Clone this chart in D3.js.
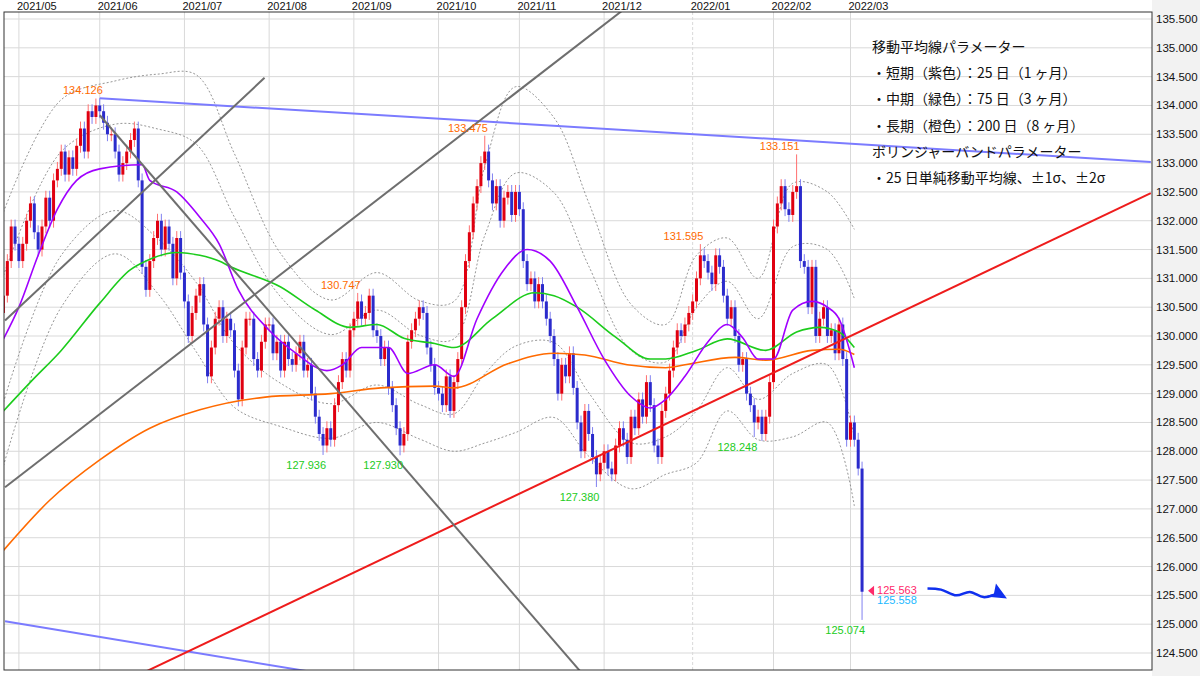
<!DOCTYPE html>
<html><head><meta charset="utf-8">
<script src="https://cdn.jsdelivr.net/npm/d3@7"></script>
<style>body{margin:0;background:#fff}svg{display:block}</style>
</head><body><svg id="c" width="1200" height="676"></svg>
<script>
// daily closes, 2021-04-27 .. 2022-03-04 (weekdays)
var closes = [
 130.7,131.3,131.9,131.6,
 131.3,131.6,132.0,132.3,131.8,131.5,131.9,132.4,132.0,132.7,132.9,133.2,132.8,133.1,132.9,133.3,133.6,133.2,133.9,133.8,134.0,
 133.9,133.7,133.5,133.5,133.2,132.8,133.0,133.2,133.4,133.6,132.7,131.2,130.8,131.3,131.7,132.0,131.5,131.9,131.6,131.0,131.7,131.1,
 130.6,130.0,130.4,130.7,130.9,130.2,129.3,129.8,130.3,130.5,130.0,130.3,130.1,129.4,128.9,129.8,130.3,130.3,129.6,129.4,129.9,130.2,
 130.2,129.7,129.9,129.4,129.9,129.6,129.5,129.7,129.9,129.4,129.5,129.0,128.6,128.3,128.1,128.4,128.2,128.8,129.2,129.6,129.4,130.1,
 130.3,130.6,130.3,130.4,130.7,130.1,130.0,129.6,129.8,129.1,128.8,128.4,128.1,128.3,129.9,130.1,130.3,130.5,130.4,129.8,129.5,129.1,
 129.0,128.8,129.3,128.7,129.2,129.6,130.5,131.3,131.8,132.3,132.6,133.0,133.2,132.7,132.3,132.6,132.0,132.4,132.5,132.1,132.5,
 132.2,131.3,130.9,131.0,130.6,130.9,130.6,130.3,130.0,129.6,129.0,129.5,129.3,129.7,129.1,128.5,128.0,128.7,128.3,127.9,127.6,127.8,
 128.0,127.7,127.6,128.1,128.4,128.2,127.9,128.6,128.4,128.9,128.6,129.2,128.8,128.1,127.9,128.7,129.0,129.4,129.8,130.1,130.0,130.2,130.4,
 130.6,131.0,131.4,131.3,131.1,130.9,131.4,131.2,130.7,130.3,130.5,130.0,129.5,129.6,129.0,128.8,128.5,128.6,128.3,128.6,129.2,
 131.9,132.3,132.6,132.2,132.1,132.5,132.6,131.3,131.2,130.5,131.2,130.0,130.3,130.5,130.0,130.1,129.7,130.2,129.6,128.2,
 128.5,128.2,127.7,125.563
];
var firstOpen = 130.4;
var highMarks = [[25,134.126],[92,130.747],[125,133.475],[181,131.595],[206,133.151]];
var lowMarks = [[83,127.936],[103,127.930],[154,127.380],[195,128.248],[223,125.074]];

// moving averages, [day index, value]
var ma25 = [[0,129.95],[4,130.5],[9,131.4],[14,132.2],[19,132.7],[25,132.9],[36,132.97],[38,132.7],[45,132.5],[51,132.06],[56,131.6],[61,130.8],[69,130.1],[76,129.7],[84,129.4],[88,129.5],[93,129.8],[100,129.8],[105,129.35],[112,129.5],[117,129.3],[123,130.3],[130,131.15],[136,131.5],[142,131.3],[149,130.5],[156,129.6],[163,128.95],[168,128.75],[172,128.9],[177,129.3],[183,129.9],[188,130.2],[192,129.97],[196,129.6],[200,129.6],[205,130.45],[210,130.6],[214,130.5],[217,130.3],[221,129.45]];
var ma75 = [[0,128.7],[7,129.2],[15,129.75],[25,130.57],[33,131.15],[37,131.3],[45,131.45],[51,131.4],[56,131.3],[59,131.2],[72,130.85],[81,130.45],[90,130.15],[97,130.2],[104,129.96],[112,129.87],[117,129.8],[127,130.3],[138,130.75],[143,130.7],[149,130.5],[159,129.98],[168,129.6],[172,129.6],[180,129.75],[188,129.95],[198,129.75],[206,130.07],[212,130.15],[217,130.07],[221,129.8]];
var ma200 = [[0,126.28],[12,127.15],[25,127.85],[38,128.4],[51,128.72],[68,128.94],[85,129.0],[98,129.1],[112,129.13],[117,129.1],[131,129.52],[143,129.7],[151,129.67],[162,129.5],[172,129.45],[177,129.5],[190,129.63],[198,129.58],[210,129.75],[217,129.77],[221,129.68]];
// bollinger sigma around ma25
var sigma = [[0,1.1],[15,0.9],[29,0.75],[40,0.95],[50,1.2],[60,1.1],[72,0.75],[85,0.6],[97,0.65],[108,0.6],[117,0.65],[125,1.2],[133,1.5],[143,1.3],[152,1.1],[163,0.8],[172,0.65],[180,0.9],[188,0.75],[196,0.7],[205,1.1],[214,1.0],[221,1.2]];

var trendLines = [
 {p:[[25,134.126],[298,133.02]], c:"#7b7bff"},
 {p:[[0.4,125.05],[82,124.15]], c:"#7b7bff"},
 {p:[[34.2,124.09],[298,132.48]], c:"#ee1c1c"},
 {p:[[0.4,130.27],[67.8,134.48]], c:"#6e6e6e"},
 {p:[[0.4,127.375],[161,135.66]], c:"#6e6e6e"},
 {p:[[25,133.83],[151,124.09]], c:"#6e6e6e"}
];
var yTicks = d3.range(124.5, 135.51, 0.5);
var legendLines = ["移動平均線パラメーター","・短期（紫色）：25 日（1 ヶ月）","・中期（緑色）：75 日（3 ヶ月）","・長期（橙色）：200 日（8 ヶ月）","ボリンジャーバンドパラメーター","・25 日単純移動平均線、±1σ、±2σ"];

// trading dates
var dates = [];
for (var d = new Date(2021,3,27); d <= new Date(2022,2,4); d.setDate(d.getDate()+1)) {
  if (d.getDay() !== 0 && d.getDay() !== 6) dates.push(new Date(d));
}
var bars = closes.map(function(c,i){
  var o = i ? closes[i-1] : firstOpen;
  return {i:i, o:o, c:c, h:Math.max(o,c)+0.12, l:Math.min(o,c)-0.12};
});
highMarks.forEach(function(m){bars[m[0]].h=m[1];});
lowMarks.forEach(function(m){bars[m[0]].l=m[1];});

var svg = d3.select("#c");
var L=4, R=1152, T=12, B=670;
var x = d3.scaleLinear().domain([0,1]).range([3.5,7.35]);
var y = d3.scaleLinear().domain([124.5,135.5]).range([653,19]);

svg.append("rect").attr("x",R).attr("y",0).attr("width",1200-R).attr("height",676).attr("fill","#f2f2f2");
svg.append("defs").append("clipPath").attr("id","clip").append("rect").attr("x",L).attr("y",T).attr("width",R-L).attr("height",B-T);
var g = svg.append("g").attr("clip-path","url(#clip)");

// grid
g.selectAll(".hg").data(yTicks).join("line").attr("x1",L).attr("x2",R).attr("y1",y).attr("y2",y).attr("stroke","#d9d9d9");
var monthIdx = [];
dates.forEach(function(d,i){ if(i>0 && d.getMonth()!==dates[i-1].getMonth()) monthIdx.push(i); });
g.selectAll(".vg").data(monthIdx).join("line").attr("x1",x).attr("x2",x).attr("y1",T).attr("y2",B)
 .attr("stroke","#d9d9d9").attr("stroke-dasharray",function(i){return dates[i].getMonth()===0?"3,2":null;});

// bollinger
var sig = d3.scaleLinear().domain(sigma.map(function(s){return s[0];})).range(sigma.map(function(s){return s[1];}));
var mid = d3.scaleLinear().domain(ma25.map(function(s){return s[0];})).range(ma25.map(function(s){return s[1];}));
var bandIdx = sigma.map(function(s){return s[0];});
var curve = d3.curveMonotoneX;
[-2,-1,1,2].forEach(function(k){
  g.append("path").datum(bandIdx).attr("fill","none").attr("stroke","#8a8a8a").attr("stroke-width",0.9).attr("stroke-dasharray","2,2")
   .attr("d", d3.line().curve(d3.curveCatmullRom).x(function(i){return x(i);}).y(function(i){return y(mid(i)+k*sig(i));}));
});

// candles
var up="#e00010", dn="#2b2bcc";
var cg = g.selectAll(".cd").data(bars).join("g");
cg.append("line").attr("x1",function(b){return x(b.i);}).attr("x2",function(b){return x(b.i);})
 .attr("y1",function(b){return y(b.h);}).attr("y2",function(b){return y(b.l);})
 .attr("stroke",function(b){return b.c>=b.o?"#ff7070":"#8080f0";}).attr("stroke-width",1);
cg.append("rect").attr("x",function(b){return x(b.i)-1.5;}).attr("width",3)
 .attr("y",function(b){return y(Math.max(b.o,b.c));})
 .attr("height",function(b){return Math.max(1,Math.abs(y(b.o)-y(b.c)));})
 .attr("fill",function(b){return b.c>=b.o?up:dn;});

// moving averages
[[ma200,"#ff6a00"],[ma75,"#1ccc1c"],[ma25,"#a000ff"]].forEach(function(m){
  g.append("path").datum(m[0]).attr("fill","none").attr("stroke",m[1]).attr("stroke-width",1.6)
   .attr("d", d3.line().curve(curve).x(function(p){return x(p[0]);}).y(function(p){return y(p[1]);}));
});

// trend lines
g.selectAll(".tl").data(trendLines).join("line")
 .attr("x1",function(t){return x(t.p[0][0]);}).attr("y1",function(t){return y(t.p[0][1]);})
 .attr("x2",function(t){return x(t.p[1][0]);}).attr("y2",function(t){return y(t.p[1][1]);})
 .attr("stroke",function(t){return t.c;}).attr("stroke-width",2);

// high / low labels
var lf = "Liberation Sans, Arial, sans-serif";
g.selectAll(".hm").data(highMarks).join("text").attr("x",function(m){return x(m[0])+3;}).attr("y",function(m){return y(m[1])-4;})
 .attr("text-anchor","end").attr("font-family",lf).attr("font-size",11).attr("fill","#ff6a00").text(function(m){return m[1].toFixed(3);});
g.selectAll(".lm").data(lowMarks).join("text").attr("x",function(m){return x(m[0])+3;}).attr("y",function(m){return y(m[1])+14;})
 .attr("text-anchor","end").attr("font-family",lf).attr("font-size",11).attr("fill","#22cc22").text(function(m){return m[1].toFixed(3);});

// last price tag
var last = bars[bars.length-1];
var lx = x(last.i)+6, ly = y(last.c)-1;
g.append("path").attr("d","M"+lx+","+ly+"l6,-5v10z").attr("fill","#ff2a6a");
g.append("text").attr("x",lx+9).attr("y",ly+3).attr("font-family",lf).attr("font-size",11).attr("fill","#ff2a6a").text(last.c.toFixed(3));
g.append("text").attr("x",lx+9).attr("y",ly+13).attr("font-family",lf).attr("font-size",11).attr("fill","#20b8ff").text("125.558");

// squiggle arrow
var sq = [[240,125.62],[243.5,125.6],[247.5,125.5],[251,125.56],[254.5,125.47],[257,125.5]];
g.append("path").datum(sq).attr("fill","none").attr("stroke","#1030ee").attr("stroke-width",2.5)
 .attr("d", d3.line().curve(d3.curveCatmullRom).x(function(p){return x(p[0]);}).y(function(p){return y(p[1]);}));
var ax = x(257)+14, ay = y(125.48)+2;
g.append("path").attr("d","M"+ax+","+ay+"l-11,-15l-2,10l-9,3z").attr("fill","#1030ee");

// legend
g.selectAll(".lg").data(legendLines).join("text").attr("x",872).attr("y",function(d,i){return 52+i*26.2;})
 .attr("font-family","Noto Sans CJK JP, sans-serif").attr("font-size",14).attr("fill","#111").text(function(d){return d;});

// borders
svg.append("rect").attr("x",L).attr("y",T).attr("width",R-L).attr("height",B-T).attr("fill","none").attr("stroke","#333");

// axes
svg.selectAll(".yl").data(yTicks).join("text").attr("x",1156).attr("y",function(v){return y(v)+4;})
 .attr("font-family",lf).attr("font-size",11.5).attr("fill","#111").text(function(v){return v.toFixed(3);});
var mfmt = d3.timeFormat("%Y/%m");
svg.selectAll(".xl").data(monthIdx).join("text").attr("x",function(i){return x(i)-2;}).attr("y",10)
 .attr("text-anchor","start").attr("font-family",lf).attr("font-size",11).attr("fill","#111").text(function(i){return mfmt(dates[i]);});
</script></body></html>
